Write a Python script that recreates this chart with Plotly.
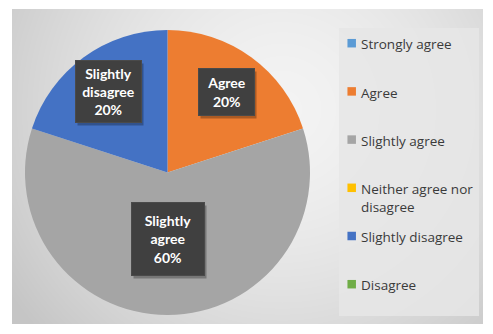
import math, zlib, struct, base64
import plotly.graph_objects as go

# ---- data ----
categories = ["Strongly agree", "Agree", "Slightly agree",
              "Neither agree nor disagree", "Slightly disagree", "Disagree"]
values = [0, 20, 60, 0, 20, 0]
legend_labels = ["Strongly agree", "Agree", "Slightly agree",
                 "Neither agree nor<br>disagree", "Slightly disagree", "Disagree"]
label_texts = {"Agree": "Agree", "Slightly agree": "Slightly<br>agree",
               "Slightly disagree": "Slightly<br>disagree"}

# ---- style ----
colors = ["#5B9BD5", "#ED7D31", "#A5A5A5", "#FFC000", "#4472C4", "#70AD47"]
OFF = 8                      # page body margin (px) in the browser
W, H = 493 - OFF, 334 - OFF  # figure size
cx, cy, R = 167.5, 172.5, 142.5   # pie centre/radius in screen px
label_frac = {"Agree": 0.70, "Slightly agree": 0.47, "Slightly disagree": 0.70}
label_box = {"Agree": (55, 46), "Slightly agree": (72, 72), "Slightly disagree": (65, 61)}
LEG_X, LEG_Y0, LEG_STEP, LEG_SYM = 351.7, 43.2, 48.2, 8.5
LEG_FONT = 13.5

def fx(px):  # screen px -> paper x
    return (px - OFF) / W

def fy(py):  # screen px -> paper y
    return (H - (py - OFF)) / H

# gradient background image (pure python png)
def make_png(w, h):
    rows = []
    gx, gy = 270.0, 100.0
    for y in range(h):
        row = bytearray([0])
        for x in range(w):
            d = math.hypot(x - gx, y - gy) / 330.0
            v = int(round(243 - 46 * min(d, 1.0) ** 1.6))
            row += bytes([v, v, v])
        rows.append(bytes(row))
    raw = b"".join(rows)
    def chunk(t, data):
        c = struct.pack(">I", len(data)) + t + data
        return c + struct.pack(">I", zlib.crc32(t + data) & 0xffffffff)
    png = b"\x89PNG\r\n\x1a\n" + chunk(b"IHDR", struct.pack(">IIBBBBB", w, h, 8, 2, 0, 0, 0))
    png += chunk(b"IDAT", zlib.compress(raw, 9)) + chunk(b"IEND", b"")
    return "data:image/png;base64," + base64.b64encode(png).decode()

bg_x0, bg_y0, bg_x1, bg_y1 = 12, 9, 483, 324
bg = make_png(bg_x1 - bg_x0, bg_y1 - bg_y0)

fig = go.Figure()
fig.add_trace(go.Pie(
    labels=categories,
    values=values,
    sort=False,
    direction="clockwise",
    rotation=0,
    marker=dict(colors=colors, line=dict(width=0)),
    textinfo="none",
    hoverinfo="label+percent",
    domain=dict(x=[fx(cx - R), fx(cx + R)], y=[fy(cy + R), fy(cy - R)]),
    showlegend=False,
))

# data labels computed from the values
total = sum(values)
cum = 0
annotations = []
for cat, v in zip(categories, values):
    if v > 0 and cat in label_texts:
        mid = (cum + v / 2) / total * 2 * math.pi
        d = label_frac[cat] * R
        px = cx + d * math.sin(mid)
        py = cy - d * math.cos(mid)
        bw, bh = label_box[cat]
        txt = f"{label_texts[cat]}<br>{round(v / total * 100)}%"
        common = dict(xref="paper", yref="paper", x=fx(px), y=fy(py),
                      showarrow=False, width=bw - 2, height=bh - 2,
                      xanchor="center", yanchor="middle")
        annotations.append(dict(common, text=" ", bgcolor="rgba(0,0,0,0.28)",
                                xshift=2, yshift=-3))
        annotations.append(dict(common, text=txt, bgcolor="#404040",
                                bordercolor="#4a4a4a", borderwidth=1,
                                font=dict(family="Lato", size=14, color="white", weight="bold")))
    cum += v

# legend (Excel-style, evenly distributed entries)
shapes = [dict(type="rect", xref="paper", yref="paper",
               x0=fx(339), x1=fx(479), y0=fy(316), y1=fy(28),
               fillcolor="rgba(230,230,230,0.85)", line=dict(width=0), layer="below")]
line_h = LEG_FONT * 1.3
for i, (lab, col) in enumerate(zip(legend_labels, colors)):
    yc = LEG_Y0 + i * LEG_STEP
    shapes.append(dict(type="rect", xref="paper", yref="paper",
                       x0=fx(LEG_X - LEG_SYM / 2), x1=fx(LEG_X + LEG_SYM / 2),
                       y0=fy(yc + LEG_SYM / 2), y1=fy(yc - LEG_SYM / 2),
                       fillcolor=col, line=dict(width=0)))
    annotations.append(dict(xref="paper", yref="paper", x=fx(LEG_X + LEG_SYM / 2 + 3),
                            y=fy(yc - line_h / 2 - 1), xanchor="left", yanchor="top",
                            align="left", showarrow=False, text=lab,
                            font=dict(family="Open Sans", size=LEG_FONT, color="#3a3a3a")))

fig.update_layout(
    width=W, height=H,
    margin=dict(l=0, r=0, t=0, b=0),
    paper_bgcolor="white",
    plot_bgcolor="white",
    showlegend=False,
    images=[dict(source=bg, xref="paper", yref="paper",
                 x=fx(bg_x0), y=fy(bg_y0),
                 sizex=(bg_x1 - bg_x0) / W, sizey=(bg_y1 - bg_y0) / H,
                 xanchor="left", yanchor="top", sizing="stretch", layer="below")],
    shapes=shapes,
    annotations=annotations,
)

fig.write_html("out.html")
